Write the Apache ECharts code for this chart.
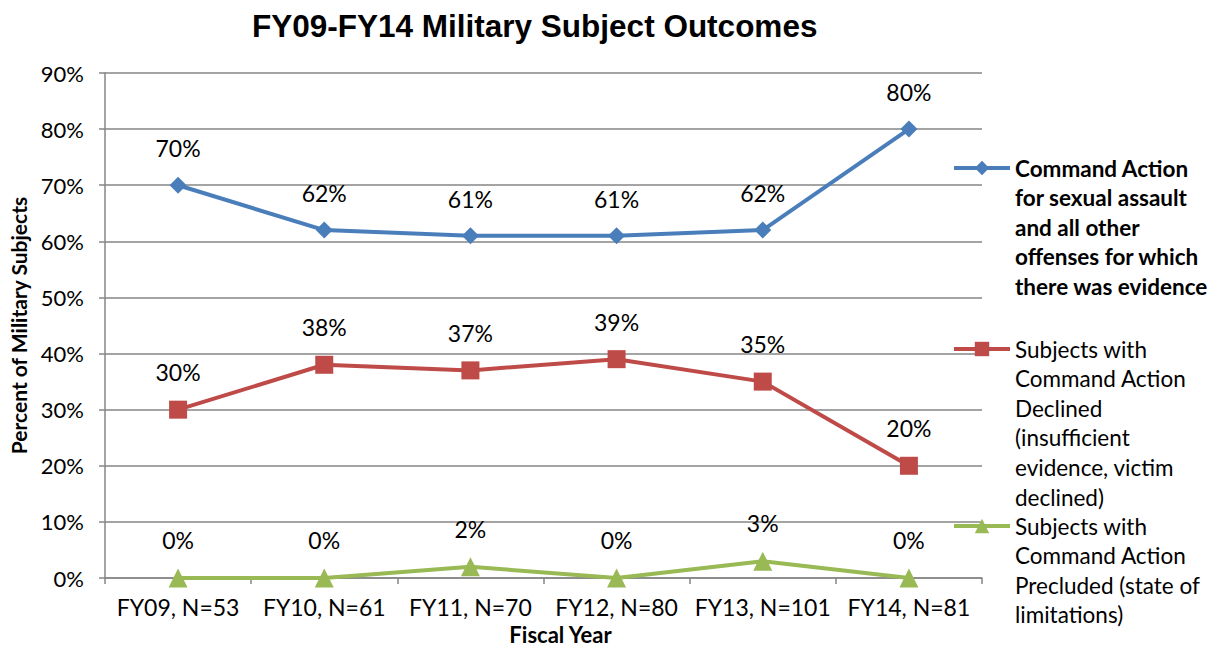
<!DOCTYPE html>
<html>
<head>
<meta charset="utf-8">
<script src="https://cdn.jsdelivr.net/npm/echarts@6/dist/echarts.min.js"></script>
<style>html,body{margin:0;padding:0;background:#fff}#c{width:1213px;height:650px}</style>
</head>
<body>
<div id="c"></div>
<script>
var titleText = 'FY09-FY14 Military Subject Outcomes';
var categories = ['FY09, N=53', 'FY10, N=61', 'FY11, N=70', 'FY12, N=80', 'FY13, N=101', 'FY14, N=81'];
var yTicks = [0, 10, 20, 30, 40, 50, 60, 70, 80, 90];
var nameAction = 'Command Action\nfor sexual assault\nand all other\noffenses for which\nthere was evidence';
var nameDeclined = 'Subjects with\nCommand Action\nDeclined\n(insufficient\nevidence, victim\ndeclined)';
var namePrecluded = 'Subjects with\nCommand Action\nPrecluded (state of\nlimitations)';
var valuesAction = [70, 62, 61, 61, 62, 80];
var valuesDeclined = [30, 38, 37, 39, 35, 20];
var valuesPrecluded = [0, 0, 2, 0, 3, 0];
var xAxisTitle = 'Fiscal Year';
var yAxisTitle = 'Percent of Military Subjects';

var FONT = 'Lato';
var LH = 29.6;
var colors = ['#4a7ebb', '#be4b48', '#98b954'];

function legendFor(name, firstLineCenter, bold) {
  var n = name.split('\n').length;
  var pre = new Array(n).join('\n');
  return {
    data: [name],
    orient: 'vertical',
    left: 952,
    top: firstLineCenter - LH / 2 - (n - 1) * LH,
    padding: 0,
    itemWidth: 56,
    itemHeight: 18,
    selectedMode: false,
    lineStyle: { width: 4 },
    formatter: function (nm) { return pre + nm; },
    textStyle: {
      fontFamily: FONT, fontSize: 22.5, color: '#000',
      fontWeight: bold ? 'bold' : 'normal',
      lineHeight: LH
    }
  };
}

function mkSeries(name, data, color, symbol, size) {
  return {
    name: name, type: 'line', data: data,
    symbol: symbol, symbolSize: size,
    lineStyle: { color: color, width: 4 },
    itemStyle: { color: color },
    label: {
      show: true, position: 'top', distance: 17,
      formatter: function (p) { return p.value + '%'; },
      fontFamily: FONT, fontSize: 23, color: '#000'
    },
    animation: false
  };
}

var chart = echarts.init(document.getElementById('c'), null, { renderer: 'svg' });
chart.setOption({
  backgroundColor: '#fff',
  animation: false,
  title: {
    text: titleText, left: 247, top: 5,
    textStyle: { fontFamily: 'Liberation Sans', fontSize: 31.5, fontWeight: 'bold', color: '#000' }
  },
  legend: [
    legendFor(nameAction, 168, true),
    legendFor(nameDeclined, 349, false),
    legendFor(namePrecluded, 526, false)
  ],
  grid: { left: 104, right: 231, top: 73, bottom: 72, containLabel: false },
  xAxis: {
    type: 'category', data: categories, boundaryGap: true,
    axisLine: { lineStyle: { color: '#868686', width: 1.5 } },
    axisTick: { show: true, length: 6, inside: false, interval: 0, lineStyle: { color: '#868686', width: 1.5 } },
    axisLabel: { fontFamily: FONT, fontSize: 23, color: '#000', margin: 17, interval: 0 },
    name: xAxisTitle, nameLocation: 'middle', nameGap: 45,
    nameTextStyle: { fontFamily: FONT, fontSize: 22, fontWeight: 'bold', color: '#000', padding: [0, 0, 0, 34] }
  },
  yAxis: {
    type: 'value', min: 0, max: 90, interval: 10,
    axisLine: { show: true, lineStyle: { color: '#868686', width: 1.5 } },
    axisTick: { show: true, length: 6, lineStyle: { color: '#868686', width: 1.5 } },
    splitLine: { show: true, lineStyle: { color: '#868686', width: 1.5 } },
    axisLabel: {
      fontFamily: FONT, fontSize: 22, color: '#000', margin: 21,
      formatter: function (v) { return yTicks.indexOf(v) >= 0 ? v + '%' : ''; }
    },
    name: yAxisTitle, nameLocation: 'middle', nameGap: 76, nameRotate: 90,
    nameTextStyle: { fontFamily: FONT, fontSize: 21, fontWeight: 'bold', color: '#000' }
  },
  series: [
    mkSeries(nameAction, valuesAction, colors[0], 'diamond', 17),
    mkSeries(nameDeclined, valuesDeclined, colors[1], 'rect', 18),
    mkSeries(namePrecluded, valuesPrecluded, colors[2], 'triangle', 19)
  ]
});
</script>
</body>
</html>
